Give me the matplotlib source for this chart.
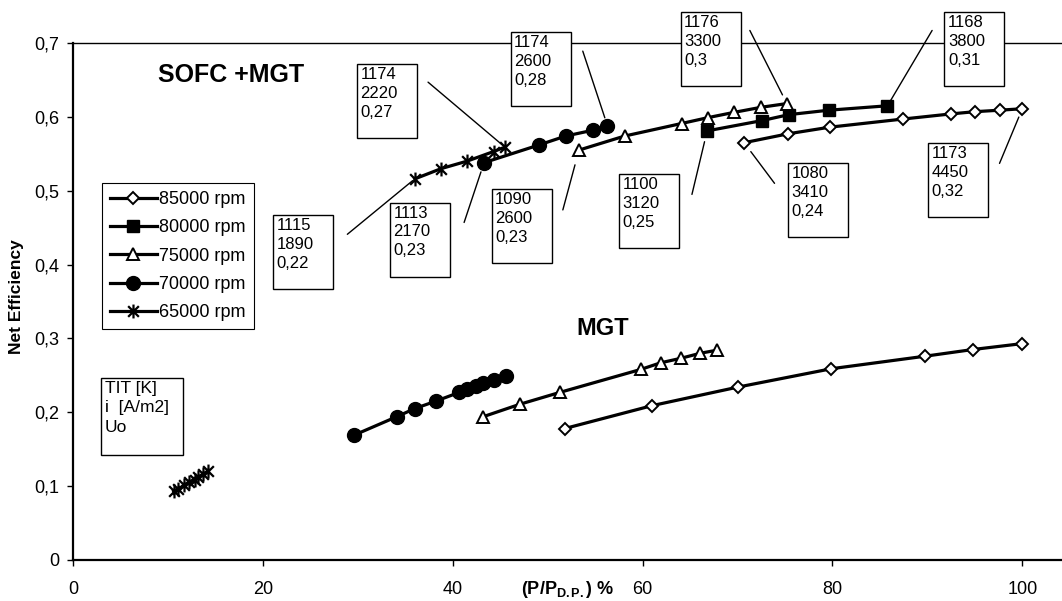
import numpy as np
import matplotlib
matplotlib.use('Agg')
import matplotlib.pyplot as plt
from matplotlib.path import Path
from matplotlib.patches import Rectangle
from matplotlib.ticker import FuncFormatter

plt.rcParams['font.family'] = ['Liberation Sans', 'DejaVu Sans']
plt.rcParams['mathtext.fontset'] = 'custom'
plt.rcParams['mathtext.bf'] = 'Liberation Sans:bold'
plt.rcParams['mathtext.rm'] = 'Liberation Sans'
plt.rcParams['mathtext.it'] = 'Liberation Sans:italic'

# ---------------- data ----------------
rpm_labels = ['85000 rpm', '80000 rpm', '75000 rpm', '70000 rpm', '65000 rpm']

# SOFC + MGT
sofc_85_x = [70.7, 75.3, 79.7, 87.4, 92.5, 95.0, 97.6, 100.0]
sofc_85_y = [0.565, 0.577, 0.586, 0.597, 0.604, 0.607, 0.609, 0.611]
sofc_80_x = [66.8, 72.6, 75.4, 79.6, 85.8]
sofc_80_y = [0.581, 0.595, 0.603, 0.609, 0.615]
sofc_75_x = [53.3, 58.1, 64.1, 66.9, 69.6, 72.5, 75.2]
sofc_75_y = [0.555, 0.574, 0.591, 0.599, 0.606, 0.613, 0.618]
sofc_70_x = [43.3, 49.1, 51.9, 54.8, 56.3]
sofc_70_y = [0.538, 0.562, 0.574, 0.582, 0.588]
sofc_65_x = [36.0, 38.8, 41.5, 44.3, 45.5]
sofc_65_y = [0.516, 0.530, 0.540, 0.553, 0.559]

# MGT alone
mgt_85_x = [51.8, 61.0, 70.0, 79.9, 89.8, 94.8, 100.0]
mgt_85_y = [0.178, 0.209, 0.234, 0.259, 0.276, 0.285, 0.293]
mgt_75_x = [43.2, 47.1, 51.3, 59.8, 61.9, 64.0, 66.1, 67.8]
mgt_75_y = [0.194, 0.211, 0.227, 0.258, 0.267, 0.273, 0.280, 0.284]
mgt_70_x = [29.6, 34.1, 36.0, 38.2, 40.7, 41.5, 42.4, 43.2, 44.3, 45.6]
mgt_70_y = [0.169, 0.194, 0.205, 0.215, 0.227, 0.232, 0.235, 0.239, 0.244, 0.249]
mgt_65_x = [10.6, 11.1, 11.7, 12.2, 12.8, 13.2, 13.7, 14.2]
mgt_65_y = [0.093, 0.096, 0.101, 0.105, 0.108, 0.112, 0.116, 0.120]

# annotation texts (TIT [K], i [A/m2], Uo)
ann_texts = ['1115\n1890\n0,22', '1174\n2220\n0,27', '1113\n2170\n0,23',
             '1174\n2600\n0,28', '1090\n2600\n0,23', '1100\n3120\n0,25',
             '1176\n3300\n0,3', '1168\n3800\n0,31', '1080\n3410\n0,24',
             '1173\n4450\n0,32']
ann_targets = [('s65', 0), ('s65', -1), ('s70', 0), ('s70', -1), ('s75', 0),
               ('s80', 0), ('s75', -1), ('s80', -1), ('s85', 0), ('s85', -1)]

x_ticks = [0, 20, 40, 60, 80, 100]
y_ticks = [0, 0.1, 0.2, 0.3, 0.4, 0.5, 0.6, 0.7]

# ---------------- layout ----------------
W, H = 1062, 601
fig = plt.figure(figsize=(W / 100, H / 100), dpi=100)
ax_l, ax_r, ax_t, ax_b = 73, 1062, 43, 560
ax = fig.add_axes([ax_l / W, 1 - ax_b / H, (ax_r - ax_l) / W, (ax_b - ax_t) / H])
ax.set_xlim(0, (ax_r - ax_l) / 9.493)
ax.set_ylim(0, 0.7)

star = Path([(-1, -1), (1, 1), (-1, 1), (1, -1), (0, -1.3), (0, 1.3)],
            [Path.MOVETO, Path.LINETO, Path.MOVETO, Path.LINETO, Path.MOVETO, Path.LINETO])

lw = 2.3
styles = {
    '85': dict(marker='D', ms=6, mfc='white', mec='black', mew=1.4),
    '80': dict(marker='s', ms=9, mfc='black', mec='black', mew=1.0),
    '75': dict(marker='^', ms=9, mfc='white', mec='black', mew=1.4),
    '70': dict(marker='o', ms=10, mfc='black', mec='black', mew=1.0),
    '65': dict(marker=star, ms=10, mfc='black', mec='black', mew=1.6),
}

series = {
    's85': (sofc_85_x, sofc_85_y), 's80': (sofc_80_x, sofc_80_y),
    's75': (sofc_75_x, sofc_75_y), 's70': (sofc_70_x, sofc_70_y),
    's65': (sofc_65_x, sofc_65_y),
}
mgt = {
    '85': (mgt_85_x, mgt_85_y), '75': (mgt_75_x, mgt_75_y),
    '70': (mgt_70_x, mgt_70_y), '65': (mgt_65_x, mgt_65_y),
}

handles = []
for key, lab in zip(['85', '80', '75', '70', '65'], rpm_labels):
    xs, ys = series['s' + key]
    h, = ax.plot(xs, ys, color='black', lw=lw, zorder=4, label=lab, **styles[key])
    handles.append(h)
    if key in mgt:
        mx, my = mgt[key]
        ax.plot(mx, my, color='black', lw=lw, zorder=4, **styles[key])

# spines / ticks
for s in ['left', 'bottom']:
    ax.spines[s].set_linewidth(1.6)
ax.spines['top'].set_linewidth(1.0)
ax.spines['right'].set_visible(False)
ax.set_xticks(x_ticks)
ax.set_yticks(y_ticks)
ax.yaxis.set_major_formatter(FuncFormatter(lambda v, _: '0' if v == 0 else f'{v:.1f}'.replace('.', ',')))
ax.tick_params(axis='both', direction='out', length=4, width=1, labelsize=13)
ax.tick_params(axis='x', pad=11)
ax.tick_params(axis='y', pad=6)

# axis labels
fig.text(568 / W, 1 - 589 / H, r'$\mathbf{(P/P_{D.P.})\ \%}$', ha='center', va='center', fontsize=13)
fig.text(17 / W, 1 - 297 / H, 'Net Efficiency', rotation=90, ha='center', va='center',
         fontsize=12.5, fontweight='bold')

# titles inside plot
ax.text(16.7, 0.657, 'SOFC +MGT', fontsize=18, fontweight='bold', ha='center', va='center')
ax.text(55.8, 0.314, 'MGT', fontsize=17, fontweight='bold', ha='center', va='center')

# legend
leg = ax.legend(handles, rpm_labels, loc='upper left',
                bbox_to_anchor=(101.7 / W, 1 - 182.7 / H), bbox_transform=fig.transFigure,
                frameon=True, fancybox=False, edgecolor='black', borderaxespad=0,
                fontsize=13, handlelength=2.6, handletextpad=0.15, labelspacing=0.63,
                borderpad=0.45, framealpha=1)
leg.get_frame().set_linewidth(0.8)
leg.set_zorder(6)

# annotation boxes: (box left, box top) and line start, in data units; shrink at the marker
px = 1 / 9.493          # data-x per pixel
py = 0.7 / (ax_b - ax_t)  # data-y per pixel
box_pos = [(21.1, 0.467), (29.9, 0.672), (33.4, 0.484), (46.1, 0.715), (44.1, 0.502),
           (57.5, 0.522), (64.0, 0.742), (91.8, 0.742), (75.3, 0.537), (90.1, 0.565)]
line_start = [(28.9, 0.441), (37.4, 0.647), (41.2, 0.457), (53.7, 0.689), (51.6, 0.474),
              (65.2, 0.495), (71.3, 0.717), (90.5, 0.717), (73.9, 0.510), (97.6, 0.537)]
shrinks = [2, 2, 7, 6, 11, 8, 7, 4.5, 8, 6.5]
bw, bh = 60 * px, 74 * py
for txt, (bx, by), (sx, sy), (sk, si), sh in zip(ann_texts, box_pos, line_start, ann_targets, shrinks):
    xs, ys = series[sk]
    ax.add_patch(Rectangle((bx, by - bh), bw, bh, facecolor='white', edgecolor='black',
                           lw=1.0, zorder=5, clip_on=False))
    ax.text(bx + 3.5 * px, by - 3 * py, txt, ha='left', va='top', fontsize=12,
            linespacing=1.33, zorder=6, clip_on=False)
    ax.annotate('', xy=(xs[si], ys[si]), xytext=(sx, sy),
                arrowprops=dict(arrowstyle='-', color='black', lw=1.0, shrinkA=0, shrinkB=sh),
                zorder=3, annotation_clip=False)

# TIT box
tx, ty = 2.95, 0.247
ax.add_patch(Rectangle((tx, ty - 77 * py), 82 * px, 77 * py, facecolor='white',
                       edgecolor='black', lw=1.0, zorder=5))
ax.text(tx + 4 * px, ty - 3 * py, 'TIT [K]\ni  [A/m2]\nUo', ha='left', va='top',
        fontsize=12.5, linespacing=1.38, zorder=6)

fig.savefig('out.png', dpi=100)
